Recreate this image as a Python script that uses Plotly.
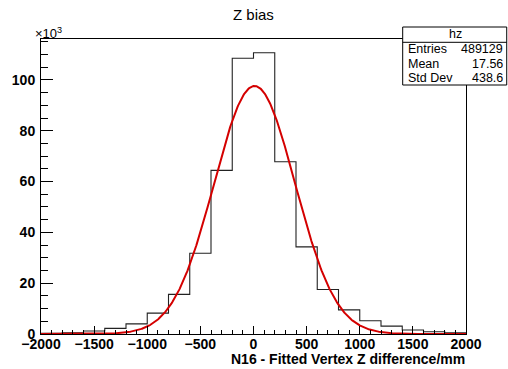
import numpy as np
import plotly.graph_objects as go

# Histogram data (counts in thousands), 20 bins of 200 mm from -2000 to 2000
bin_edges = list(range(-2000, 2001, 200))
counts_k = [0.3, 0.5, 1.2, 2.2, 4.0, 8.2, 15.6, 31.8, 64.4, 108.5,
            110.7, 67.8, 34.3, 17.5, 9.5, 5.2, 3.1, 1.6, 0.9, 0.5]

# Gaussian fit parameters (constant in thousands, mean, sigma in mm)
fit_const_k = 97.6
fit_mean = 10.0
fit_sigma = 382.0

# Stats box
stats_name = "hz"
stats_labels = ["Entries", "Mean", "Std Dev"]
stats_values = ["489129", "17.56", "438.6"]

title_text = "Z bias"
xtitle_text = "N16 - Fitted Vertex Z difference/mm"

W, H = 508, 369
L, R, T, B = 33, 42, 39, 35
pw, ph = W - L - R, H - T - B

def px(x):
    return (x - L) / pw

def py(y):
    return (H - B - y) / ph

hist_x = bin_edges[:]
hist_y = counts_k + [counts_k[-1]]

fit_x = np.linspace(-2000, 2000, 801)
fit_y = fit_const_k * np.exp(-0.5 * ((fit_x - fit_mean) / fit_sigma) ** 2)

fig = go.Figure()
fig.add_trace(go.Scatter(x=hist_x, y=hist_y, mode="lines", line_shape="hv",
                         line=dict(color="#222222", width=1.1), hoverinfo="skip"))
fig.add_trace(go.Scatter(x=fit_x, y=fit_y, mode="lines",
                         line=dict(color="#d40000", width=2), hoverinfo="skip"))

fontfam = "Liberation Sans, Arial, Helvetica, sans-serif"
fig.update_layout(
    width=W, height=H,
    margin=dict(l=L, r=R, t=T, b=B, pad=0),
    paper_bgcolor="white", plot_bgcolor="white",
    showlegend=False,
    font=dict(family=fontfam, color="black"),
    xaxis=dict(range=[-2000, 2000], showgrid=False, zeroline=False,
               showline=True, linecolor="black", linewidth=1, mirror=True,
               ticks="inside", ticklen=8, tickcolor="black", tickwidth=1,
               tick0=-2000, dtick=500,
               minor=dict(ticks="inside", ticklen=4, dtick=100, tickcolor="black", showgrid=False),
               tickfont=dict(size=14, weight="bold", family=fontfam),
               ticklabelstandoff=-3),
    yaxis=dict(range=[0, 116.1], showgrid=False, zeroline=False,
               showline=True, linecolor="black", linewidth=1, mirror=True,
               ticks="inside", ticklen=12, tickcolor="black", tickwidth=1,
               tick0=0, dtick=20,
               minor=dict(ticks="inside", ticklen=7, dtick=5, tickcolor="black", showgrid=False),
               tickfont=dict(size=14, weight="bold", family=fontfam),
               ticklabelstandoff=2),
)

annotations = [
    dict(text=title_text, x=px(249), y=py(15), xref="paper", yref="paper",
         xanchor="center", yanchor="middle", showarrow=False,
         font=dict(size=15, family=fontfam)),
    dict(text="×10<sup>3</sup>", x=px(25), y=py(33), xref="paper", yref="paper",
         xanchor="left", yanchor="middle", showarrow=False,
         font=dict(size=13, family=fontfam)),
    dict(text=xtitle_text, x=px(467), y=py(359), xref="paper", yref="paper",
         xanchor="right", yanchor="middle", showarrow=False,
         font=dict(size=14, weight="bold", family=fontfam)),
    dict(text=stats_name, x=px(455), y=py(34.5), xref="paper", yref="paper",
         xanchor="center", yanchor="middle", showarrow=False,
         font=dict(size=12.5, family=fontfam)),
]
row_y = [49, 63.5, 78]
for lab, val, yy in zip(stats_labels, stats_values, row_y):
    annotations.append(dict(text=lab, x=px(405), y=py(yy), xref="paper", yref="paper",
                            xanchor="left", yanchor="middle", showarrow=False,
                            font=dict(size=12.5, family=fontfam)))
    annotations.append(dict(text=val, x=px(506), y=py(yy), xref="paper", yref="paper",
                            xanchor="right", yanchor="middle", showarrow=False,
                            font=dict(size=12.5, family=fontfam)))
fig.update_layout(annotations=annotations)

shapes = [
    dict(type="rect", xref="paper", yref="paper", x0=px(401.5), x1=px(507.5),
         y0=py(85), y1=py(27), line=dict(color="black", width=1), fillcolor="white", layer="above"),
    dict(type="line", xref="paper", yref="paper", x0=px(401.5), x1=px(507.5),
         y0=py(42.3), y1=py(42.3), line=dict(color="black", width=1), layer="above"),
]
fig.update_layout(shapes=shapes)

fig.write_html("out.html")
